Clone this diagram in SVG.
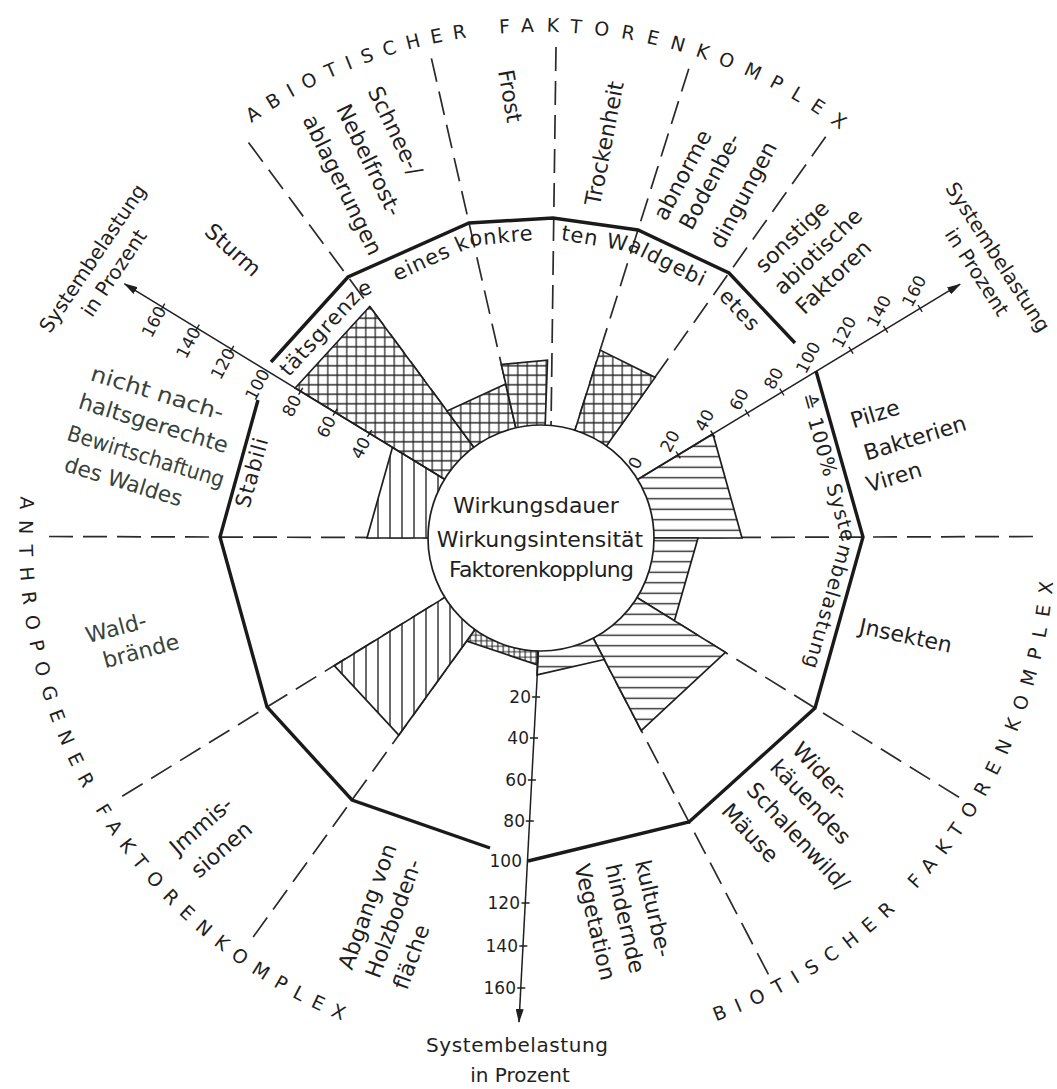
<svg xmlns="http://www.w3.org/2000/svg" width="1057" height="1089" viewBox="0 0 1057 1089">
<defs>
<style>
text{font-family:"DejaVu Sans","Liberation Sans",sans-serif;fill:#1f1f1f}
.l{font-size:22px}
.c{text-anchor:middle;dominant-baseline:central}
.g{fill:#36433a}
.t{font-size:17px}
.r{font-size:19px}
.s{font-size:20px}
.st{font-size:21px;letter-spacing:1px}
.dash{fill:none;stroke:#2a2a2a;stroke-width:1.7;stroke-dasharray:24 10}
.bar{stroke:#1f1f1f;stroke-width:1.7;stroke-linejoin:miter}
.ax{fill:none;stroke:#1f1f1f;stroke-width:1.5}
.tk{fill:none;stroke:#1f1f1f;stroke-width:1.4}
.poly{fill:none;stroke:#1a1a1a;stroke-width:3.4;stroke-linejoin:miter}
</style>
<pattern id="pX" patternUnits="userSpaceOnUse" width="9.5" height="9.5"><rect width="9.5" height="9.5" fill="#fff"/><path d="M4.75 0V9.5M0 4.75H9.5" stroke="#222" stroke-width="1.25"/></pattern>
<pattern id="pXf" patternUnits="userSpaceOnUse" width="5.5" height="5.5"><rect width="5.5" height="5.5" fill="#fff"/><path d="M2.75 0V5.5M0 2.75H5.5" stroke="#222" stroke-width="1.1"/></pattern>
<pattern id="pH" patternUnits="userSpaceOnUse" width="10" height="10.5"><rect width="10" height="10.5" fill="#fff"/><path d="M0 5.25H10" stroke="#222" stroke-width="1.35"/></pattern>
<pattern id="pV" patternUnits="userSpaceOnUse" width="12" height="10"><rect width="12" height="10" fill="#fff"/><path d="M6 0V10" stroke="#222" stroke-width="1.35"/></pattern>
<marker id="arr" viewBox="0 0 14 8" refX="13" refY="4" markerWidth="14" markerHeight="8" markerUnits="userSpaceOnUse" orient="auto"><path d="M0 0L14 4L0 8z" fill="#1f1f1f"/></marker>
<path id="rT" d="M183.2,180.2 A506,506 0 0 1 898.8,180.2"/>
<path id="rL" d="M26.9,447.4 A522,522 0 0 0 450.4,1052.1"/>
<path id="rR" d="M630.3,1044.2 A514,514 0 0 0 1047.2,448.7"/>
<path id="stab" d="M241,538 L284.9,381.7 L362.5,296.9 L474,245.6 L552,238.2 L631.2,251.9 L714.8,293.5 L797.5,382.6 L841,538 L796,696.1"/>
</defs>
<rect width="1057" height="1089" fill="#fff"/>

<g id="connectors">
<path class="dash" d="M49,536.5 L431,537.7"/>
<path class="dash" d="M122.2,796.3 L447.4,595.8"/>
<path class="dash" d="M253.2,937 L476.6,627.2"/>
<path class="dash" d="M768.4,974.4 L591.8,635.6"/>
<path class="dash" d="M959,797.3 L634.5,596"/>
<path class="dash" d="M1033,536.5 L651,537.7"/>
<path class="dash" d="M825.7,136.7 L604.6,448.3"/>
<path class="dash" d="M688.8,68.7 L574,433.1"/>
<path class="dash" d="M556,47 L551,428"/>
<path class="dash" d="M431.4,58.4 L516.5,430.8"/>
<path class="dash" d="M248.5,142.4 L475.6,449.6"/>
</g>

<g id="sector-nicht-nachhaltig">
<path class="bar" fill="url(#pV)" d="M455.6,485.9 L392.5,447.3 L367,538 L441,538 Z"/>
<text class="l c g" transform="translate(157.5,393) rotate(17)" textLength="138" lengthAdjust="spacingAndGlyphs">nicht nach-</text>
<text class="l c g" transform="translate(153.5,423.5) rotate(17)" textLength="155" lengthAdjust="spacingAndGlyphs">haltsgerechte</text>
<text class="l c g" transform="translate(146,456.5) rotate(17)" textLength="163" lengthAdjust="spacingAndGlyphs">Bewirtschaftung</text>
<text class="l c g" transform="translate(123.5,481.5) rotate(17)" textLength="122" lengthAdjust="spacingAndGlyphs">des Waldes</text>
</g>
<g id="sector-sturm">
<path class="bar" fill="url(#pX)" d="M481.5,457.6 L369.7,306.5 L295.2,388 L455.6,485.9 Z"/>
<text class="l c" transform="translate(233,250) rotate(42)">Sturm</text>
</g>
<g id="sector-schnee">
<path class="bar" fill="url(#pX)" d="M518.7,440.5 L505.7,384 L447,411 L481.5,457.6 Z"/>
<text class="l c" transform="translate(395,131) rotate(64)">Schnee-/</text>
<text class="l c" transform="translate(369,160) rotate(64)">Nebelfrost-</text>
<text class="l c" transform="translate(342.5,185) rotate(64)">ablagerungen</text>
</g>
<g id="sector-frost">
<path class="bar" fill="url(#pX)" d="M544.7,438.1 L547.5,360.1 L501.3,364.5 L518.7,440.5 Z"/>
<text class="l c" transform="translate(510,96) rotate(80)">Frost</text>
</g>
<g id="sector-trockenheit">
<text class="l c" transform="translate(604.5,143.5) rotate(-79)">Trockenheit</text>
</g>
<g id="sector-abnorme-boden">
<path class="bar" fill="url(#pX)" d="M598.9,456.5 L655.1,377.4 L600.2,350.1 L571.1,442.6 Z"/>
<text class="l c" transform="translate(682.5,175) rotate(-62)">abnorme</text>
<text class="l c" transform="translate(710,181.5) rotate(-62)">Bodenbe-</text>
<text class="l c" transform="translate(743.5,195) rotate(-62)">dingungen</text>
</g>
<g id="sector-sonstige">
<text class="l c" transform="translate(792,236.5) rotate(-44)">sonstige</text>
<text class="l c" transform="translate(818,251.5) rotate(-44)">abiotische</text>
<text class="l c" transform="translate(833.5,277) rotate(-44)">Faktoren</text>
</g>
<g id="sector-pilze">
<path class="bar" fill="url(#pH)" d="M641,538 L742,538 L712.9,433.9 L626.5,486.2 Z"/>
<text class="l c" transform="translate(875,414) rotate(-17)">Pilze</text>
<text class="l c" transform="translate(915,438) rotate(-17)">Bakterien</text>
<text class="l c" transform="translate(894,477) rotate(-17)">Viren</text>
</g>
<g id="sector-insekten">
<path class="bar" fill="url(#pH)" d="M626,590.7 L674.4,620.7 L698,538 L641,538 Z"/>
<text class="l c" transform="translate(905.7,635.7) rotate(12)">Jnsekten</text>
</g>
<g id="sector-schalenwild">
<path class="bar" fill="url(#pH)" d="M587.2,626.7 L641.2,730.5 L725.4,652.4 L626,590.7 Z"/>
<text class="l c" transform="translate(820.5,771.5) rotate(47)">Wider-</text>
<text class="l c" transform="translate(810.5,802) rotate(47)">käuendes</text>
<text class="l c" transform="translate(798,836.5) rotate(47)">Schalenwild/</text>
<text class="l c" transform="translate(750,833) rotate(47)">Mäuse</text>
</g>
<g id="sector-vegetation">
<path class="bar" fill="url(#pH)" d="M538,638 L537,674.9 L604.3,659.5 L587.2,626.7 Z"/>
<text class="l c" transform="translate(653.5,908.5) rotate(77)">kulturbe-</text>
<text class="l c" transform="translate(625,918.5) rotate(77)">hindernde</text>
<text class="l c" transform="translate(595,922) rotate(77)">Vegetation</text>
</g>
<g id="sector-abgang">
<path class="bar" fill="url(#pXf)" d="M482.5,619.1 L466.7,641 L537.2,664.9 L538,638 Z"/>
<text class="l c" transform="translate(367.5,906.5) rotate(-70)">Abgang von</text>
<text class="l c" transform="translate(393.5,918.5) rotate(-70)">Holzboden-</text>
<text class="l c" transform="translate(411.5,957) rotate(-70)">fläche</text>
</g>
<g id="sector-immissionen">
<path class="bar" fill="url(#pV)" d="M455.9,590.6 L334.3,665.7 L398.8,735.1 L482.5,619.1 Z"/>
<text class="l c" transform="translate(201,825.5) rotate(-41)">Jmmis-</text>
<text class="l c" transform="translate(221.5,849.5) rotate(-41)">sionen</text>
</g>
<g id="sector-waldbraende">
<text class="l c g" transform="translate(116,628) rotate(-15)">Wald-</text>
<text class="l c g" transform="translate(141,651) rotate(-15)">brände</text>
</g>

<g id="axes">
<path class="ax" d="M444.6,479.1 L124.5,283.8" marker-end="url(#arr)"/>
<path class="ax" d="M641.9,476.9 L960.1,284.2" marker-end="url(#arr)"/>
<path class="ax" d="M538.5,651 L519,1022" marker-end="url(#arr)"/>
<path class="tk" d="M367.5,436.8L371.7,430 M333,415.7L337.2,408.9 M298.6,394.7L302.8,387.9 M229.6,352.6L233.8,345.8 M195.1,331.5L199.3,324.7 M160.6,310.5L164.8,303.7"/>
<path class="tk" d="M676.1,451.5L680.3,458.3 M710.7,430.6L714.9,437.4 M745.2,409.7L749.4,416.5 M779.8,388.7L784,395.5 M848.9,346.9L853.1,353.7 M883.5,325.9L887.7,332.7 M918,305L922.2,311.8"/>
<path class="tk" d="M532.1,697H540.1 M530,738H538 M527.9,780H535.9 M525.8,821H533.8 M521.5,903H529.5 M519.3,946H527.3 M517.2,988H525.2"/>
<g class="t">
<text class="c" transform="translate(360.7,447.9) rotate(-62)">40</text>
<text class="c" transform="translate(326.2,426.8) rotate(-62)">60</text>
<text class="c" transform="translate(291.8,405.8) rotate(-62)">80</text>
<text class="c" transform="translate(257.3,384.7) rotate(-62)">100</text>
<text class="c" transform="translate(222.8,363.7) rotate(-62)">120</text>
<text class="c" transform="translate(188.3,342.6) rotate(-62)">140</text>
<text class="c" transform="translate(153.8,321.6) rotate(-62)">160</text>
<text class="c" transform="translate(635.3,463) rotate(-62)">0</text>
<text class="c" transform="translate(669.9,441.2) rotate(-62)">20</text>
<text class="c" transform="translate(704.5,420.3) rotate(-62)">40</text>
<text class="c" transform="translate(739,399.4) rotate(-62)">60</text>
<text class="c" transform="translate(773.6,378.4) rotate(-62)">80</text>
<text class="c" transform="translate(808.1,357.5) rotate(-62)">100</text>
<text class="c" transform="translate(844,332) rotate(-62)">120</text>
<text class="c" transform="translate(879,311) rotate(-62)">140</text>
<text class="c" transform="translate(914,291) rotate(-62)">160</text>
<text x="531" y="703" text-anchor="end">20</text>
<text x="529" y="744" text-anchor="end">40</text>
<text x="527" y="786" text-anchor="end">60</text>
<text x="525" y="827" text-anchor="end">80</text>
<text x="522" y="867" text-anchor="end">100</text>
<text x="520" y="909" text-anchor="end">120</text>
<text x="518" y="952" text-anchor="end">140</text>
<text x="516" y="994" text-anchor="end">160</text>
</g>
<g class="s">
<text class="c" transform="translate(92.5,258.3) rotate(-56)">Systembelastung</text>
<text class="c" transform="translate(114,273) rotate(-56)">in Prozent</text>
<text class="c" transform="translate(998,257) rotate(57)">Systembelastung</text>
<text class="c" transform="translate(977,272) rotate(57)">in Prozent</text>
<text x="517" y="1052" text-anchor="middle" textLength="182">Systembelastung</text>
<text x="520" y="1082" text-anchor="middle">in Prozent</text>
</g>
</g>

<g id="center">
<circle cx="541" cy="538" r="113" fill="#fff" stroke="#1f1f1f" stroke-width="1.7"/>
<text class="l" x="536" y="513" text-anchor="middle">Wirkungsdauer</text>
<text class="l" x="540" y="547" text-anchor="middle">Wirkungsintensität</text>
<text class="l" x="541.5" y="577" text-anchor="middle" textLength="185">Faktorenkopplung</text>
</g>

<g id="stabilitaetsgrenze">
<path class="poly" d="M258,400 L220,537 L267,707 L352,800 L490,848 M528,861 L689,822 L815,708 L863,537 L816,371 M795,343 L729,273 L638,230 L553,218 L469,223 L348,277 L271,362"/>
<text class="st"><textPath href="#stab" startOffset="30">Stabili</textPath></text>
<text class="st"><textPath href="#stab" startOffset="168">tätsgrenze</textPath></text>
<text class="st"><textPath href="#stab" startOffset="315">eines konkre</textPath></text>
<text class="st"><textPath href="#stab" startOffset="487">ten</textPath></text>
<text class="st"><textPath href="#stab" startOffset="533">Waldgebi</textPath></text>
<text class="st"><textPath href="#stab" startOffset="657">etes</textPath></text>
<text class="st" style="font-size:20px;letter-spacing:1px"><textPath href="#stab" startOffset="787">≙ 100% Systembelastung</textPath></text>
</g>

<g id="ring-labels" class="r">
<text><textPath href="#rT" startOffset="89.2" style="letter-spacing:10.5px">ABIOTISCHER</textPath></text>
<text><textPath href="#rT" startOffset="355.9" style="letter-spacing:12.3px">FAKTORENKOMPLEX</textPath></text>
<text><textPath href="#rL" startOffset="49.2" style="letter-spacing:10.8px">ANTHROPOGENER</textPath></text>
<text><textPath href="#rL" startOffset="376.3" style="letter-spacing:10.1px">FAKTORENKOMPLEX</textPath></text>
<text><textPath href="#rR" startOffset="88.7" style="letter-spacing:10.8px">BIOTISCHER</textPath></text>
<text><textPath href="#rR" startOffset="330.7" style="letter-spacing:11px">FAKTORENKOMPLEX</textPath></text>
</g>
</svg>
